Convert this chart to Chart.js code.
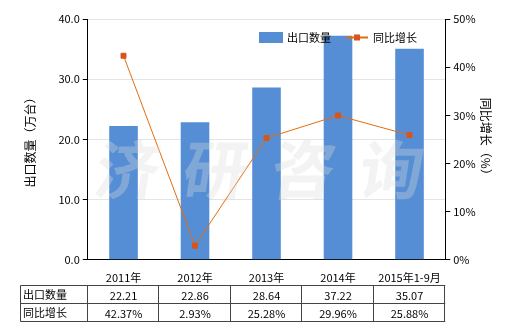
<!DOCTYPE html>
<html lang="zh">
<head>
<meta charset="UTF-8">
<title>出口数量及同比增长</title>
<script src="https://cdn.jsdelivr.net/npm/chart.js"></script>
<style>
  html, body { margin: 0; padding: 0; background: #fff; }
  canvas { display: block; }
</style>
</head>
<body>
<canvas id="c" width="520" height="330"></canvas>
<script>
const years = ['2011年', '2012年', '2013年', '2014年', '2015年1-9月'];
const exportQty = [22.21, 22.86, 28.64, 37.22, 35.07];
const yoyGrowth = [42.37, 2.93, 25.28, 29.96, 25.88];
const seriesNames = ['出口数量', '同比增长'];

const FONT = '"Noto Sans CJK SC", "Noto Sans", sans-serif';
const BAR = '#558ED5';
const LINE = '#E46C0A';

// watermark + legend + data table drawn on top of the chart
const extras = {
  id: 'extras',
  afterDatasetsDraw(chart) {
    const ctx = chart.ctx;
    ctx.save();
    ctx.font = 'bold 64px ' + FONT;
    ctx.fillStyle = 'rgba(220,220,220,0.33)';
    ctx.textBaseline = 'middle';
    ctx.textAlign = 'center';
    const wm = ['济', '研', '咨', '询'];
    wm.forEach((ch, i) => {
      ctx.save();
      ctx.translate(128 + i * 88, 170);
      ctx.transform(1, 0, -0.15, 1, 0, 0);
      ctx.fillText(ch, 0, 0);
      ctx.restore();
    });
    ctx.restore();
  },
  afterDraw(chart) {
    const ctx = chart.ctx;
    const x = chart.scales.x;
    ctx.save();
    // legend
    ctx.font = '11px ' + FONT;
    ctx.textBaseline = 'middle';
    ctx.textAlign = 'left';
    ctx.fillStyle = BAR;
    ctx.fillRect(259, 32, 24, 11);
    ctx.fillStyle = '#000';
    ctx.fillText(seriesNames[0], 287, 38);
    ctx.strokeStyle = LINE;
    ctx.lineWidth = 2;
    ctx.beginPath();
    ctx.moveTo(346, 37.5);
    ctx.lineTo(368, 37.5);
    ctx.stroke();
    ctx.fillStyle = '#D9541A';
    ctx.fillRect(354, 34.5, 6, 6);
    ctx.fillStyle = '#000';
    ctx.fillText(seriesNames[1], 373, 38);

    // data table
    const left = 20.5, top = 285.5, mid = 303.5, bottom = 321.5;
    const right = chart.chartArea.right;
    const colStart = chart.chartArea.left;
    ctx.strokeStyle = '#444';
    ctx.lineWidth = 1;
    ctx.beginPath();
    [top, mid, bottom].forEach(yy => { ctx.moveTo(left, yy); ctx.lineTo(right, yy); });
    ctx.moveTo(left, top); ctx.lineTo(left, bottom);
    const w = (right - colStart) / years.length;
    for (let i = 0; i <= years.length; i++) {
      const xx = Math.round(colStart + i * w) - 0.5;
      ctx.moveTo(xx, top); ctx.lineTo(xx, bottom);
    }
    ctx.stroke();
    ctx.fillStyle = '#000';
    ctx.textAlign = 'left';
    ctx.fillText(seriesNames[0], 23, (top + mid) / 2);
    ctx.fillText(seriesNames[1], 23, (mid + bottom) / 2);
    ctx.textAlign = 'center';
    years.forEach((y, i) => {
      const cx = x.getPixelForValue(i);
      ctx.fillText(exportQty[i].toFixed(2), cx, (top + mid) / 2 + 1);
      ctx.fillText(yoyGrowth[i].toFixed(2) + '%', cx, (mid + bottom) / 2 + 1);
    });
    ctx.restore();
  }
};

new Chart(document.getElementById('c'), {
  type: 'bar',
  data: {
    labels: years,
    datasets: [
      {
        type: 'line',
        label: seriesNames[1],
        data: yoyGrowth,
        yAxisID: 'y1',
        borderColor: LINE,
        borderWidth: 1,
        pointStyle: 'rect',
        pointRadius: 3.5,
        pointBackgroundColor: '#D9541A',
        pointBorderColor: '#D9541A',
        tension: 0,
        order: 0
      },
      {
        label: seriesNames[0],
        data: exportQty,
        yAxisID: 'y',
        backgroundColor: BAR,
        barPercentage: 0.4,
        categoryPercentage: 1,
        order: 1
      }
    ]
  },
  options: {
    responsive: false,
    animation: false,
    layout: { padding: { left: 23, right: 13, top: 19, bottom: 43 } },
    plugins: {
      legend: { display: false },
      tooltip: { enabled: false }
    },
    scales: {
      x: {
        grid: { display: false, drawTicks: true },
        border: { color: '#000' },
        ticks: { color: '#000', font: { family: FONT, size: 11 }, maxRotation: 0 }
      },
      y: {
        position: 'left',
        min: 0, max: 40,
        ticks: { stepSize: 10, color: '#000', font: { family: FONT, size: 11 }, callback: v => v.toFixed(1) },
        grid: { color: '#E4E4E4', tickColor: '#000', tickLength: 5 },
        border: { color: '#000' },
        title: { display: true, text: '出口数量（万台）', color: '#000', font: { family: FONT, size: 12 }, padding: { top: 0, bottom: 18 } }
      },
      y1: {
        position: 'right',
        min: 0, max: 50,
        ticks: { stepSize: 10, color: '#000', font: { family: FONT, size: 11 }, callback: v => v + '%' },
        grid: { drawOnChartArea: false, tickColor: '#000', tickLength: 5 },
        border: { color: '#000' },
        title: { display: true, text: '同比增长（%）', color: '#000', font: { family: FONT, size: 12 }, padding: { top: 14, bottom: 0 } }
      }
    }
  },
  plugins: [extras]
});
</script>
</body>
</html>
